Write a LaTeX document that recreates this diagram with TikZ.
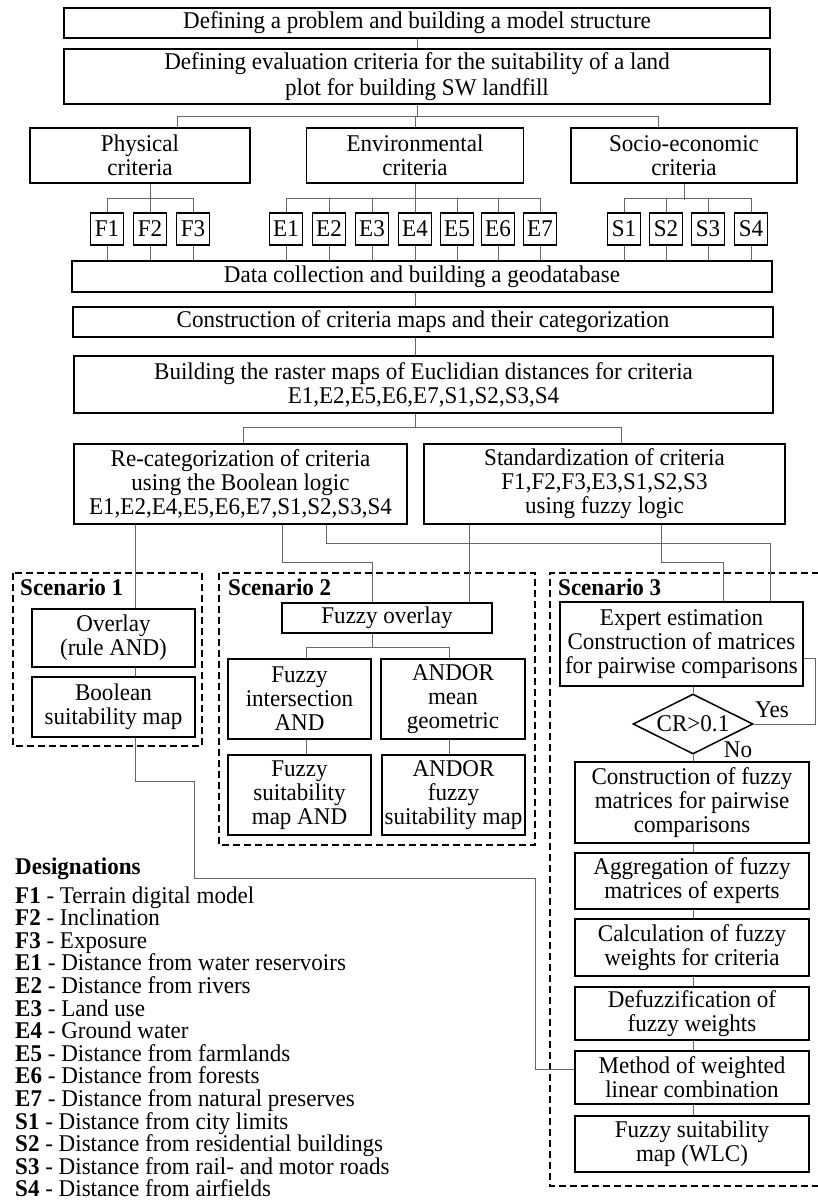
\documentclass[tikz,border=0pt]{standalone}
\usepackage{fontspec}
\setmainfont[FakeStretch=0.96]{Liberation Serif}
\usetikzlibrary{shapes.geometric}
\begin{document}
\begin{tikzpicture}[x=1pt,y=-1pt,
  every node/.style={font=\fontsize{24}{24}\selectfont},
  box/.style 2 args={draw, line width=1.5pt, align=center, inner sep=1pt, minimum width=#1pt, minimum height=#2pt},
  cbox/.style={draw, line width=1.5pt, minimum width=33pt, minimum height=32pt, inner sep=0pt},
  conn/.style={draw=black!60, line width=0.9pt},
  scen/.style={draw, line width=1.3pt, dash pattern=on 7pt off 4pt},
  lbl/.style={font=\fontsize{24}{24}\selectfont\bfseries, anchor=base west, inner sep=0pt},
  desig/.style={anchor=base west, inner sep=0pt}]
\useasboundingbox (0,0) rectangle (817,1202);

% ---------- top part ----------
\node[box={706}{30}] (b1) at (417,23) {Defining a problem and building a model structure};
\node[box={706}{55}] (b2) at (417,76.5) {Defining evaluation criteria for the suitability of a land\\[2pt]plot for building SW landfill};
\node[box={220}{55}] (phys) at (140,155.5) {Physical\\criteria};
\node[box={217}{55}] (env) at (415,155.5) {Environmental\\criteria};
\node[box={226}{55}] (soc) at (684,155.5) {Socio-economic\\criteria};

\foreach \n/\x in {F1/107,F2/150,F3/193,E1/286,E2/329,E3/372,E4/415,E5/457,E6/498,E7/540,S1/624,S2/666,S3/708,S4/751}
  \node[cbox] (\n) at (\x,229) {\n};

\node[box={700}{31}] (data) at (422,276.5) {Data collection and building a geodatabase};
\node[box={700}{30}] (cons) at (423,322) {Construction of criteria maps and their categorization};
\node[box={699}{57}] (rast) at (423.5,384.5) {Building the raster maps of Euclidian distances for criteria\\E1,E2,E5,E6,E7,S1,S2,S3,S4};
\node[box={333}{80}] (recat) at (240.5,484) {Re-categorization of criteria\\using the Boolean logic\\E1,E2,E4,E5,E6,E7,S1,S2,S3,S4};
\node[box={361}{80}] (stand) at (604.5,484) {Standardization of criteria\\F1,F2,F3,E3,S1,S2,S3\\using fuzzy logic};

% helper coordinates
\coordinate (hy) at (0,116);
\coordinate (xP) at (177,0);
\coordinate (xS) at (658,0);
\coordinate (xD2) at (415,0);
\coordinate (hr) at (0,427);
\coordinate (xR1) at (243,0);
\coordinate (xR2) at (621,0);

% connectors top
\draw[conn] (b1.south) -- (b2.north);
\draw[conn] (b2.south) -- (b2.south |- hy);
\draw[conn] (phys.north -| xP) -- (xP |- hy) -- (xS |- hy) -- (soc.north -| xS);
\draw[conn] (env.north) -- (env.north |- hy);

\draw[conn] (phys.south -| F2) -- (F2.north);
\draw[conn] (F1.north) -- ++(0,-14) -| (F3.north);
\draw[conn] (env.south) -- (E4.north);
\draw[conn] (E1.north) -- ++(0,-14) -| (E7.north);
\foreach \n in {E2,E3,E5,E6} \draw[conn] (\n.north) -- ++(0,-14);
\draw[conn] (soc.south) -- ++(0,16);
\draw[conn] (S1.north) -- ++(0,-14) -| (S4.north);
\foreach \n in {S2,S3} \draw[conn] (\n.north) -- ++(0,-14);
\foreach \n in {F1,F2,F3,E1,E2,E3,E4,E5,E6,E7,S1,S2,S3,S4}
  \draw[conn] (\n.south) -- (\n.south |- data.north);

\draw[conn] (data.south -| xD2) -- (cons.north -| xD2);
\draw[conn] (cons.south -| xD2) -- (rast.north -| xD2);
\draw[conn] (rast.south -| xD2) -- (xD2 |- hr);
\draw[conn] (recat.north -| xR1) -- (xR1 |- hr) -- (xR2 |- hr) -- (stand.north -| xR2);

% ---------- scenarios ----------
\draw[scen] (13,573) rectangle (202,746);
\draw[scen] (219,573) rectangle (535,845);
\draw[scen] (830,573) -- (550,573) -- (550,1186) -- (830,1186);
\node[lbl] (sc1) at (20,595) {Scenario 1};
\node[lbl] (sc2) at (228,595) {Scenario 2};
\node[lbl] (sc3) at (558,595) {Scenario 3};

% scenario 1
\node[box={163}{58}] (ov) at (113.5,638) {Overlay\\(rule AND)};
\node[box={163}{60}] (bool) at (113.5,707) {Boolean\\suitability map};

% scenario 2
\node[box={210}{30}] (fov) at (387,618) {Fuzzy overlay};
\node[box={143}{80}] (fint) at (299.5,699) {Fuzzy\\intersection\\AND};
\node[box={144}{80}] (amean) at (453,699) {ANDOR\\mean\\geometric};
\node[box={143}{80}] (fsuit) at (299.5,795) {Fuzzy\\suitability\\map AND};
\node[box={143}{80}] (afuz) at (453.5,795) {ANDOR\\fuzzy\\suitability map};

% scenario 3
\node[box={243}{84}] (exp) at (681.5,644) {Expert estimation\\Construction of matrices\\for pairwise comparisons};
\node[draw, line width=1.5pt, diamond, aspect=2, inner sep=0pt, minimum width=120pt, minimum height=60pt] (dia) at (693,724) {CR>0.1};
\node[box={234}{81}] (cfm) at (692,802.5) {Construction of fuzzy\\matrices for pairwise\\comparisons};
\node[box={234}{56}] (agg) at (692,881) {Aggregation of fuzzy\\matrices of experts};
\node[box={234}{57}] (calc) at (692,947.5) {Calculation of fuzzy\\weights for criteria};
\node[box={234}{53}] (defz) at (692,1013.5) {Defuzzification of\\fuzzy weights};
\node[box={234}{53}] (meth) at (692,1077.5) {Method of weighted\\linear combination};
\node[box={234}{56}] (wlc) at (692,1144) {Fuzzy suitability\\map (WLC)};
\node (yes) at (772,710) {Yes};
\node (no) at (738,750) {No};

% helper coordinates for lower connectors
\coordinate (xA) at (135,0);
\coordinate (xB) at (282,0);
\coordinate (cB) at (372,562);
\coordinate (xC) at (326,0);
\coordinate (cC) at (770,543);
\coordinate (xD) at (469,0);
\coordinate (xE) at (661,0);
\coordinate (cE) at (723,562);
\coordinate (h2a) at (306,647);
\coordinate (h2b) at (449,647);
\coordinate (p1) at (194,781);
\coordinate (p2) at (535,878);
\coordinate (x3) at (693,0);

\draw[conn] (recat.south -| xA) -- (ov.north -| xA);
\draw[conn] (recat.south -| xB) |- (cB) -- (fov.north -| cB);
\draw[conn] (recat.south -| xC) |- (cC) -- (exp.north -| cC);
\draw[conn] (stand.south -| xD) -- (fov.north -| xD);
\draw[conn] (stand.south -| xE) |- (cE) -- (exp.north -| cE);

\draw[conn] (ov.south -| xA) -- (bool.north -| xA);
\draw[conn] (bool.south -| xA) |- (p1) |- (p2) |- ([yshift=8.5pt]meth.west);

\draw[conn] (fov.south -| cB) -- (cB |- h2a);
\draw[conn] (fint.north -| h2a) |- (h2b) -- (amean.north -| h2b);
\draw[conn] (fint.south -| h2a) -- (fsuit.north -| h2a);
\draw[conn] (amean.south -| h2b) -- (afuz.north -| h2b);

\draw[conn] (exp.south -| x3) -- (dia.north);
\draw[conn] (dia.east) -- ++(62,0) |- ([yshift=-14pt]exp.east);
\draw[conn] (dia.south) -- (cfm.north -| x3);
\draw[conn] (cfm.south -| x3) -- (agg.north -| x3);
\draw[conn] (agg.south -| x3) -- (calc.north -| x3);
\draw[conn] (calc.south -| x3) -- (defz.north -| x3);
\draw[conn] (defz.south -| x3) -- (meth.north -| x3);
\draw[conn] (meth.south -| x3) -- (wlc.north -| x3);

% ---------- designations ----------
\node[lbl] (dtitle) at (15,874) {Designations};
\foreach [count=\i from 0] \k/\t in {F1/Terrain digital model, F2/Inclination, F3/Exposure, E1/Distance from water reservoirs, E2/Distance from rivers, E3/Land use, E4/Ground water, E5/Distance from farmlands, E6/Distance from forests, E7/Distance from natural preserves, S1/Distance from city limits, S2/Distance from residential buildings, S3/Distance from rail- and motor roads, S4/Distance from airfields}
  \node[desig] (d\i) at (15,{903+22.6*\i}) {\textbf{\k} - \t};
\end{tikzpicture}
\end{document}
